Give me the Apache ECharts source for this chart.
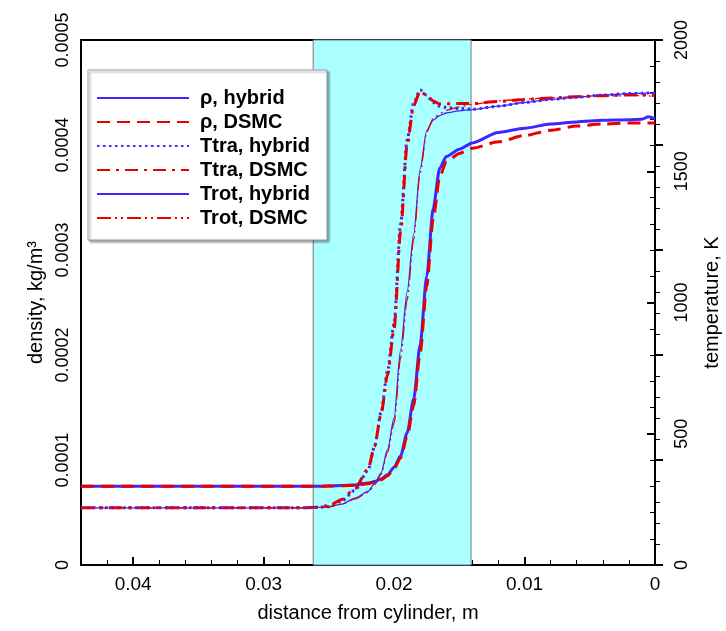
<!DOCTYPE html>
<html>
<head>
<meta charset="utf-8">
<script src="https://cdn.jsdelivr.net/npm/echarts@6/dist/echarts.min.js"></script>
<style>
  html, body { margin: 0; padding: 0; background: #fff; }
  #chart { width: 726px; height: 631px; }
</style>
</head>
<body>
<div id="chart"></div>
<script>
// distance from cylinder, m (shared grid for all curves)
const distance = [0.044, 0.04, 0.035, 0.03, 0.027, 0.026, 0.025, 0.024, 0.023, 0.022, 0.0215, 0.021, 0.0205, 0.02, 0.0195, 0.019, 0.0185, 0.018, 0.0175, 0.017, 0.0165, 0.016, 0.015, 0.014, 0.012, 0.01, 0.008, 0.006, 0.004, 0.002, 0.001, 0.0005, 0];

// density, kg/m3
const rhoHybrid = [7.5e-5, 7.5e-5, 7.5e-5, 7.5e-5, 7.5e-5, 7.5e-5, 7.52e-5, 7.56e-5, 7.62e-5, 7.8e-5, 7.95e-5, 8.2e-5, 8.6e-5, 9.3e-5, 1.04e-4, 1.26e-4, 1.58e-4, 2.1e-4, 2.75e-4, 3.4e-4, 3.78e-4, 3.89e-4, 3.96e-4, 4.02e-4, 4.12e-4, 4.16e-4, 4.2e-4, 4.22e-4, 4.235e-4, 4.24e-4, 4.245e-4, 4.27e-4, 4.25e-4];
const rhoDsmc = [7.5e-5, 7.5e-5, 7.5e-5, 7.5e-5, 7.5e-5, 7.5e-5, 7.52e-5, 7.55e-5, 7.6e-5, 7.75e-5, 7.9e-5, 8.1e-5, 8.5e-5, 9.2e-5, 1.02e-4, 1.22e-4, 1.52e-4, 2.02e-4, 2.65e-4, 3.3e-4, 3.7e-4, 3.84e-4, 3.92e-4, 3.97e-4, 4.03e-4, 4.09e-4, 4.14e-4, 4.18e-4, 4.2e-4, 4.21e-4, 4.21e-4, 4.21e-4, 4.21e-4];

// temperature, K
const ttraHybrid = [218, 218, 218, 218, 218, 219, 222, 245, 285, 360, 450, 580, 740, 920, 1300, 1620, 1760, 1810, 1790, 1762, 1748, 1743, 1739, 1736, 1748, 1762, 1774, 1782, 1790, 1796, 1797, 1798, 1797];
const ttraDsmc = [218, 218, 218, 218, 218, 220, 226, 250, 292, 365, 452, 575, 725, 900, 1270, 1600, 1750, 1806, 1788, 1768, 1756, 1757, 1758, 1758, 1766, 1773, 1779, 1784, 1788, 1791, 1791, 1790, 1788];
const trotHybrid = [218, 218, 218, 218, 218, 219, 222, 232, 255, 280, 310, 350, 440, 560, 820, 1040, 1260, 1510, 1655, 1695, 1712, 1722, 1730, 1735, 1748, 1762, 1774, 1782, 1790, 1796, 1797, 1798, 1797];
const trotDsmc = [218, 218, 218, 218, 218, 219, 222, 232, 252, 276, 305, 345, 430, 540, 790, 1010, 1240, 1495, 1650, 1700, 1720, 1732, 1745, 1755, 1768, 1775, 1780, 1784, 1786, 1788, 1788, 1787, 1785];

// shaded zone, m
const zone = [0.0262, 0.0141];

const names = ['ρ, hybrid', 'ρ, DSMC', 'Ttra, hybrid', 'Ttra, DSMC', 'Trot, hybrid', 'Trot, DSMC'];

const BLUE = '#3c28ff';
const RED = '#e80000';
const FONT = 'Liberation Sans';

function pairs(ys) {
  return distance.map((x, i) => [x, ys[i]]);
}

function line(name, ys, yIdx, color, width, type) {
  return {
    name: name,
    type: 'line',
    yAxisIndex: yIdx,
    data: pairs(ys),
    symbol: 'none',
    smooth: 0.25,
    smoothMonotone: 'x',
    animation: false,
    lineStyle: { color: color, width: width, type: type },
    itemStyle: { color: color }
  };
}

const chart = echarts.init(document.getElementById('chart'));

const series = [
  line(names[0], rhoHybrid, 0, BLUE, 3, 'solid'),
  line(names[1], rhoDsmc, 0, RED, 3, [13, 7]),
  line(names[2], ttraHybrid, 1, BLUE, 3, [2.5, 3.5]),
  line(names[3], ttraDsmc, 1, RED, 3, [13, 6, 3, 6]),
  line(names[4], trotHybrid, 1, BLUE, 1.3, 'solid'),
  line(names[5], trotDsmc, 1, RED, 1.3, [14, 4, 2, 4, 2, 4])
];
// cyan zone behind the curves
series[0].markArea = {
  silent: true,
  itemStyle: { color: '#aaffff', borderColor: '#7a7a7a', borderWidth: 1 },
  data: [[{ xAxis: zone[0] }, { xAxis: zone[1] }]]
};

const tickLabel = { fontFamily: FONT, fontSize: 18, color: '#000', formatter: v => String(v) };

chart.setOption({
  backgroundColor: '#fff',
  animation: false,
  grid: {
    left: 81, right: 71, top: 40, bottom: 66,
    outerBoundsMode: 'none',
    containLabel: false,
    show: true, borderColor: '#000', borderWidth: 2, backgroundColor: 'transparent'
  },
  legend: {
    data: names,
    orient: 'vertical',
    left: 88, top: 70,
    itemWidth: 92, itemHeight: 14, itemGap: 4,
    padding: [18, 17, 12, 8],
    backgroundColor: '#fff',
    borderColor: '#999', borderWidth: 1,
    shadowColor: 'rgba(0,0,0,0.35)', shadowOffsetX: 2, shadowOffsetY: 2, shadowBlur: 2,
    itemStyle: { opacity: 0 },
    textStyle: { fontFamily: FONT, fontSize: 20, fontWeight: 'bold', color: '#000', padding: [0, 0, 0, 6] },
    selectedMode: false
  },
  xAxis: {
    type: 'value',
    inverse: true,
    min: 0, max: 0.044, interval: 0.01,
    name: 'distance from cylinder, m',
    nameLocation: 'middle', nameGap: 38,
    nameTextStyle: { fontFamily: FONT, fontSize: 20, color: '#000' },
    axisLine: { lineStyle: { color: '#000', width: 2 } },
    axisTick: { inside: true, length: 8, lineStyle: { color: '#000', width: 2 } },
    minorTick: { show: true, splitNumber: 5, length: 5, lineStyle: { color: '#000', width: 1 } },
    axisLabel: Object.assign({}, tickLabel, { margin: 10, showMaxLabel: false, fontSize: 19 }),
    splitLine: { show: false }
  },
  yAxis: [{
    type: 'value',
    min: 0, max: 0.0005, interval: 0.0001,
    name: 'density, kg/m³',
    nameLocation: 'middle', nameGap: 27, nameRotate: 90,
    nameTextStyle: { fontFamily: FONT, fontSize: 20, color: '#000' },
    axisLine: { show: true, lineStyle: { color: '#000', width: 2 } },
    axisTick: { inside: true, length: 8, lineStyle: { color: '#000', width: 2 } },
    minorTick: { show: true, splitNumber: 5, length: 5, lineStyle: { color: '#000', width: 1 } },
    axisLabel: Object.assign({}, tickLabel, { margin: 9, rotate: 90 }),
    splitLine: { show: false }
  }, {
    type: 'value',
    position: 'right',
    min: 0, max: 2000, interval: 500,
    name: 'temperature, K',
    nameLocation: 'middle', nameGap: 47, nameRotate: 90,
    nameTextStyle: { fontFamily: FONT, fontSize: 20, color: '#000' },
    axisLine: { show: true, lineStyle: { color: '#000', width: 2 } },
    axisTick: { inside: true, length: 8, lineStyle: { color: '#000', width: 2 } },
    minorTick: { show: true, splitNumber: 5, length: 5, lineStyle: { color: '#000', width: 1 } },
    axisLabel: Object.assign({}, tickLabel, { margin: 18, rotate: 90 }),
    splitLine: { show: false }
  }],
  series: series
});
</script>
</body>
</html>
